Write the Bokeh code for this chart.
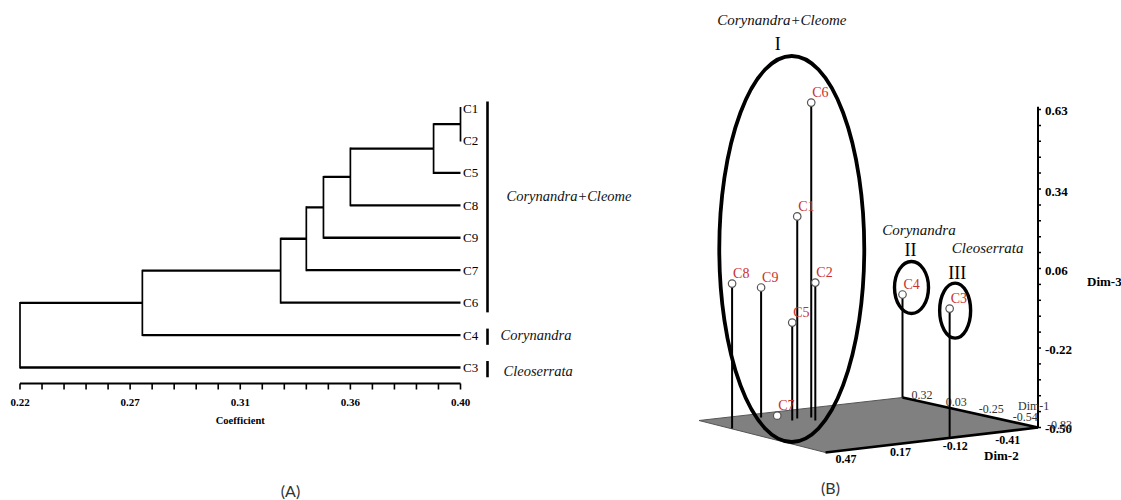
import numpy as np
from bokeh.plotting import figure
from bokeh.layouts import row
from bokeh.models import Range1d
from bokeh.core.properties import value
from bokeh.embed import file_html
from bokeh.resources import INLINE

# ---------------- (A) UPGMA dendrogram data ----------------
leaf_order = ["C1", "C2", "C5", "C8", "C9", "C7", "C6", "C4", "C3"]
merge_a = ["C1", "m1", "m2", "m3", "m4", "m5", "m6", "m7"]
merge_b = ["C2", "C5", "C8", "C9", "C7", "C6", "C4", "C3"]
merge_coef = [0.400, 0.389, 0.355, 0.344, 0.337, 0.3265, 0.270, 0.220]
coef_ticks = [0.22, 0.265, 0.31, 0.355, 0.40]
coef_tick_labels = ["0.22", "0.27", "0.31", "0.36", "0.40"]
group_names = ["Corynandra+Cleome", "Corynandra", "Cleoserrata"]
group_members = [["C1", "C2", "C5", "C8", "C9", "C7", "C6"], ["C4"], ["C3"]]

# ---------------- (B) 3-D PCA data ----------------
pts = ["C1", "C2", "C3", "C4", "C5", "C6", "C7", "C8", "C9"]
dim1 = [0.105, 0.001, -0.82, 0.32, 0.069, 0.088, 0.164, 0.046, 0.236]
dim2 = [0.019, -0.013, -0.22, -0.70, 0.070, -0.047, 0.091, 0.416, 0.133]
dim3 = [0.218, -0.010, -0.042, -0.134, -0.152, 0.619, -0.49, 0.015, -0.038]
dim1_ticks = [0.32, 0.03, -0.25, -0.54, -0.83]
dim2_ticks = [0.47, 0.17, -0.12, -0.41]
dim3_ticks = [0.63, 0.34, 0.06, -0.22, -0.50]
pca_groups = ["I", "II", "III"]
pca_group_names = ["Corynandra+Cleome", "Corynandra", "Cleoserrata"]
pca_group_members = [["C1", "C2", "C5", "C6", "C7", "C8", "C9"], ["C4"], ["C3"]]

SERIF = value("Liberation Serif")
SANS = value("Lato")
RED = "#c93030"

# =====================================================================
# Left figure: dendrogram
# =====================================================================
H = 500
W1 = 648
kx = (460.0 - 19.5) / 0.18          # px per coefficient unit
ky = 32.44                           # px per leaf
y0 = 107.5                           # page y of first leaf
x_start = 0.22 - 19.5 / kx
x_end = 0.22 + (W1 - 19.5) / kx
pA = figure(width=W1, height=H, x_range=Range1d(x_start, x_end),
            y_range=Range1d((H - y0) / ky, (0 - y0) / ky),
            x_axis_location=None, y_axis_location=None, toolbar_location=None,
            output_backend="svg", min_border=0, outline_line_color=None)
pA.xgrid.visible = False
pA.ygrid.visible = False

def dxA(px):
    return px / kx

def dyA(px):
    return px / ky

pos = {n: float(i) for i, n in enumerate(leaf_order)}
hgt = {n: 0.40 for n in leaf_order}
hx0, hx1, hy, vx, vy0, vy1 = [], [], [], [], [], []
for k, (a, b, c) in enumerate(zip(merge_a, merge_b, merge_coef)):
    for ch in (a, b):
        if hgt[ch] != c:
            hx0.append(hgt[ch]); hx1.append(c); hy.append(pos[ch])
    vx.append(c); vy0.append(pos[a]); vy1.append(pos[b])
    nm = "m%d" % (k + 1)
    pos[nm] = (pos[a] + pos[b]) / 2.0
    hgt[nm] = c

pA.segment(x0=hx0, y0=hy, x1=hx1, y1=hy, line_color="black", line_width=2.3)
pA.segment(x0=vx, y0=[v - dyA(1) for v in vy0], x1=vx, y1=[v + dyA(1) for v in vy1],
           line_color="black", line_width=1.7)

# axis
axis_y = max(pos[n] for n in leaf_order) + dyA(16)
pA.segment(x0=[coef_ticks[0]], y0=[axis_y], x1=[coef_ticks[-1]], y1=[axis_y],
           line_color="black", line_width=2.2)
minor = np.linspace(coef_ticks[0], coef_ticks[-1], 21)
pA.segment(x0=minor, y0=[axis_y] * len(minor), x1=minor, y1=[axis_y + dyA(6)] * len(minor),
           line_color="black", line_width=1.6)
pA.text(x=coef_ticks, y=[axis_y + dyA(19)] * len(coef_ticks), text=coef_tick_labels,
        text_font=SERIF, text_font_size="11px", text_font_style="bold",
        text_align="center", text_baseline="middle", text_color="black")
pA.text(x=[np.mean(coef_ticks)], y=[axis_y + dyA(37)], text=["Coefficient"],
        text_font=SERIF, text_font_size="10.5px", text_font_style="bold",
        text_align="center", text_baseline="middle", text_color="black")

# leaf labels
pA.text(x=[0.40 + dxA(2.5)] * len(leaf_order), y=[pos[n] for n in leaf_order], text=leaf_order,
        text_font=SERIF, text_font_size="13px", text_align="left", text_baseline="middle",
        text_color="black")

# group bars + names
bar_x = 0.40 + dxA(27)
name_dx = [46, 40, 43]
name_dy = [-0.3, 0.0, 0.1]
for g, (gname, mem) in enumerate(zip(group_names, group_members)):
    ys = [pos[m] for m in mem]
    pA.segment(x0=[bar_x], y0=[min(ys) - 0.2], x1=[bar_x], y1=[max(ys) + 0.3],
               line_color="black", line_width=2.6)
    pA.text(x=[0.40 + dxA(name_dx[g])], y=[np.mean(ys) + name_dy[g]], text=[gname],
            text_font=SERIF, text_font_size="14.5px", text_font_style="italic",
            text_align="left", text_baseline="middle", text_color="#111111")

pA.text(x=[0.22 + dxA(290 - 19.5)], y=[(490 - y0) / ky], text=["(A)"],
        text_font=SANS, text_font_size="16px", text_align="center",
        text_baseline="middle", text_color="#333333")

# =====================================================================
# Right figure: 3-D PCA
# =====================================================================
W2 = 1121 - W1
pB = figure(width=W2, height=H, x_range=Range1d(W1, W1 + W2), y_range=Range1d(H, 0),
            x_axis_location=None, y_axis_location=None, toolbar_location=None,
            output_backend="svg", min_border=0, outline_line_color=None)
pB.xgrid.visible = False
pB.ygrid.visible = False

D1 = (dim1_ticks[-1], dim1_ticks[0])
D2 = (-0.70, dim2_ticks[0])
D3 = (dim3_ticks[-1], dim3_ticks[0])
OX, OY = 1037.5, 427.0
E1 = (-135.5 / (D1[1] - D1[0]), -30.0 / (D1[1] - D1[0]))
E2 = (-212.5 / (D2[1] - D2[0]), 25.0 / (D2[1] - D2[0]))
E3 = (0.0, -318.0 / (D3[1] - D3[0]))

def proj(a, b, c):
    a = np.asarray(a, dtype=float) - D1[0]
    b = np.asarray(b, dtype=float) - D2[0]
    c = np.asarray(c, dtype=float) - D3[0]
    return OX + a * E1[0] + b * E2[0] + c * E3[0], OY + a * E1[1] + b * E2[1] + c * E3[1]

# floor
fx, fy = proj([D1[0], D1[1], D1[1], D1[0]], [D2[0], D2[0], D2[1], D2[1]], [D3[0]] * 4)
fx = list(fx); fy = list(fy)
fx[2] += 9; fy[2] -= 2   # slight perspective foreshortening of the far-left corner
pB.patch(x=fx, y=fy, fill_color="#808080", line_color="#555555", line_width=1)

# floor axes
bx, by = proj([D1[1], D1[0]], [D2[0], D2[0]], [D3[0], D3[0]])
pB.line(x=list(bx), y=list(by), line_color="black", line_width=2.6)
fx2, fy2 = proj([D1[0], D1[0]], [D2[1], D2[0]], [D3[0], D3[0]])
pB.line(x=list(fx2), y=list(fy2), line_color="black", line_width=2.6)
# vertical axis
zx, zy = proj([D1[0], D1[0]], [D2[0], D2[0]], [D3[0], D3[1] + 0.01])
pB.line(x=list(zx), y=list(zy), line_color="black", line_width=2)
ztick = np.linspace(D3[0], D3[1], 21)
tx, ty = proj([D1[0]] * 21, [D2[0]] * 21, ztick)
pB.segment(x0=tx, y0=ty, x1=tx + 3, y1=ty, line_color="black", line_width=1.5)

# tick labels
lx, ly = proj([D1[0]] * 5, [D2[0]] * 5, dim3_ticks)
pB.text(x=lx + 7, y=ly + 1, text=["%.2f" % t for t in dim3_ticks], text_font=SERIF,
        text_font_size="13px", text_font_style="bold", text_align="left",
        text_baseline="middle", text_color="black")
lx, ly = proj(dim1_ticks, [D2[0]] * 5, [D3[0]] * 5)
pB.text(x=lx + 9, y=ly - 3, text=["%.2f" % t for t in dim1_ticks], text_font=SERIF,
        text_font_size="12px", text_align="left", text_baseline="middle",
        text_color="#333333")
lx, ly = proj([D1[0]] * 4, dim2_ticks, [D3[0]] * 4)
pB.text(x=lx + 10, y=ly + 6, text=["%.2f" % t for t in dim2_ticks], text_font=SERIF,
        text_font_size="12px", text_font_style="bold", text_align="left",
        text_baseline="middle", text_color="black")
pB.text(x=[OX - 20], y=[OY - 22], text=["Dim-1"], text_font=SERIF, text_font_size="12px",
        text_align="left", text_baseline="middle", text_color="#333333")
pB.text(x=[OX - 54], y=[OY + 28], text=["Dim-2"], text_font=SERIF, text_font_size="13px",
        text_font_style="bold", text_align="left", text_baseline="middle", text_color="black")
mx3, my3 = proj(D1[0], D2[0], np.mean(D3))
pB.text(x=[float(mx3) + 49], y=[float(my3) + 13], text=["Dim-3"], text_font=SERIF,
        text_font_size="13px", text_font_style="bold", text_align="left",
        text_baseline="middle", text_color="black")

# points
px_, py_ = proj(dim1, dim2, dim3)
gx, gy = proj(dim1, dim2, [D3[0]] * len(pts))
pB.segment(x0=px_, y0=py_, x1=gx, y1=gy, line_color="black", line_width=2)

# group ellipses and labels
P = {n: (px_[i], py_[i]) for i, n in enumerate(pts)}
ell_off = [(8, -24), (9, -7), (5.5, 2)]
ell_size = [(145, 386, 3.8), (34, 52, 3.4), (31, 55, 3.4)]
num_off = [(-14, -12), (-1, -12), (2, -10)]
name_off = [(-10, -36), (7.5, -32), (32.5, -35)]
for g in range(3):
    mem = pca_group_members[g]
    cx = np.mean([P[m][0] for m in mem]) + ell_off[g][0]
    cy = np.mean([P[m][1] for m in mem]) + ell_off[g][1]
    w, h, lw = ell_size[g]
    pB.ellipse(x=[cx], y=[cy], width=[w], height=[h], fill_color=None,
               line_color="black", line_width=lw)
    top = cy - h / 2
    pB.text(x=[cx + num_off[g][0]], y=[top + num_off[g][1]], text=[pca_groups[g]],
            text_font=SERIF, text_font_size="18px", text_align="center",
            text_baseline="middle", text_color="black")
    pB.text(x=[cx + name_off[g][0]], y=[top + name_off[g][1]], text=[pca_group_names[g]],
            text_font=SERIF, text_font_size="15px", text_font_style="italic",
            text_align="center", text_baseline="middle", text_color="#111111")

pB.scatter(x=px_, y=py_, size=7.5, fill_color="white", line_color="#555555", line_width=1.2)
pB.text(x=px_ + 1, y=py_ - 10, text=pts, text_font=SERIF, text_font_size="14px",
        text_align="left", text_baseline="middle", text_color=RED)

pB.text(x=[830], y=[487], text=["(B)"], text_font=SANS, text_font_size="16px",
        text_align="center", text_baseline="middle", text_color="#333333")

layout = row(pA, pB)
open("out.html", "w").write(file_html(layout, INLINE))
